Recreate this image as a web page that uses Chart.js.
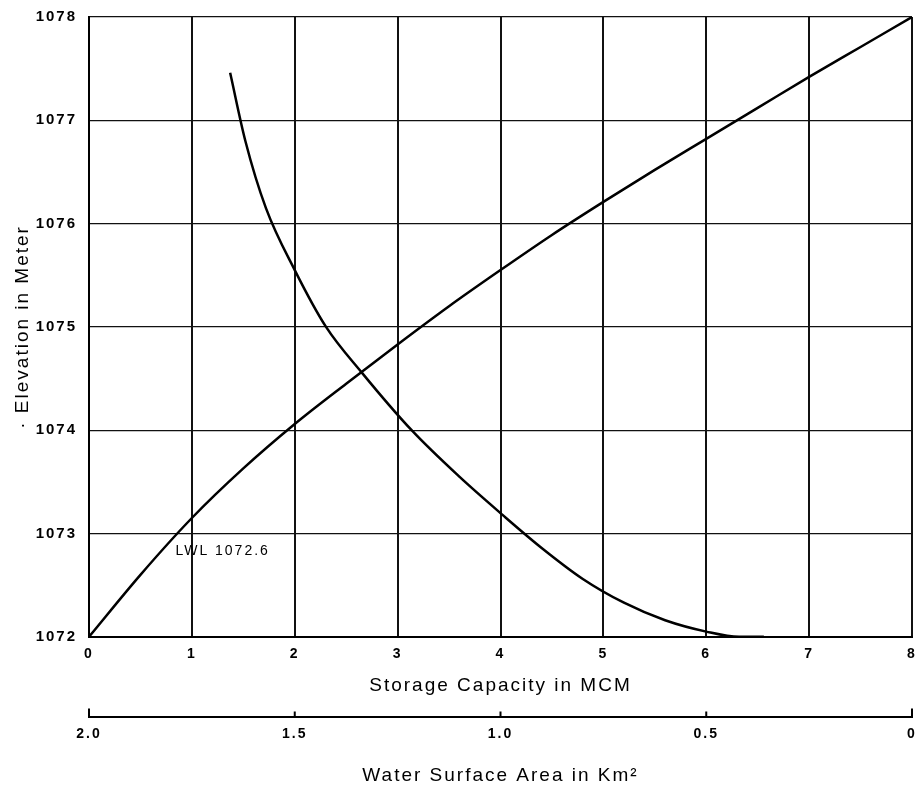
<!DOCTYPE html>
<html>
<head>
<meta charset="utf-8">
<script src="https://cdn.jsdelivr.net/npm/chart.js@4/dist/chart.umd.min.js"></script>
<style>
  html, body { margin: 0; padding: 0; background: #fff; }
  canvas { display: block; }
</style>
</head>
<body>
<canvas id="curve" width="919" height="795"></canvas>
<script>
// storage capacity (MCM) vs elevation
var capacity = [0, 0.5, 1, 1.5, 2, 2.5, 3, 3.5, 4, 4.5, 5, 5.5, 6, 6.5, 7, 7.5, 8];
var capElev  = [1072, 1072.6, 1073.15, 1073.63, 1074.06, 1074.45, 1074.83, 1075.2, 1075.55, 1075.89, 1076.21, 1076.52, 1076.82, 1077.12, 1077.42, 1077.71, 1078];

// water surface area (km2) vs elevation
var area     = [1.657, 1.62, 1.57, 1.5, 1.424, 1.3375, 1.216, 1.1, 0.995, 0.9, 0.8, 0.7, 0.6, 0.5, 0.42, 0.36];
var areaElev = [1077.46, 1076.8, 1076.15, 1075.55, 1075, 1074.56, 1074, 1073.55, 1073.18, 1072.86, 1072.56, 1072.33, 1072.16, 1072.05, 1072.0, 1072.0];

var capTicks = [0, 1, 2, 3, 4, 5, 6, 7, 8];
var areaTicks = [2.0, 1.5, 1.0, 0.5, 0];
var lwl = { text: 'LWL 1072.6', x: 0.84, y: 1072.83 };

var capPts = capacity.map(function (c, i) { return { x: c, y: capElev[i] }; });
var areaPts = area.map(function (a, i) { return { x: a, y: areaElev[i] }; });

var fontName = '"Liberation Sans", Arial, sans-serif';

// wide lettering like the original drawing
var spacing = {
    id: 'spacing',
    beforeUpdate: function (chart) { chart.ctx.letterSpacing = '2px'; },
    beforeDraw: function (chart) { chart.ctx.letterSpacing = '2px'; }
};

var extras = {
    id: 'extras',
    afterDraw: function (chart) {
        var ctx = chart.ctx;
        var s = chart.scales.x2;
        ctx.save();
        ctx.strokeStyle = '#000';
        ctx.lineWidth = 2;
        ctx.beginPath();
        s.ticks.forEach(function (t) {
            var px = s.getPixelForValue(t.value);
            var len = (t.value === 0 || t.value === 2) ? 9 : 6;
            ctx.moveTo(px, s.top);
            ctx.lineTo(px, s.top - len);
        });
        ctx.stroke();
        // low water level note
        ctx.fillStyle = '#000';
        ctx.font = '14px ' + fontName;
        ctx.textAlign = 'left';
        ctx.textBaseline = 'middle';
        ctx.fillText(lwl.text, chart.scales.x.getPixelForValue(lwl.x), chart.scales.y.getPixelForValue(lwl.y));
        ctx.restore();
    }
};

function noSidePad(s) { s.paddingLeft = 0; s.paddingRight = 0; }

new Chart('curve', {
    type: 'scatter',
    data: {
        datasets: [{
            label: 'Storage Capacity',
            data: capPts,
            xAxisID: 'x',
            yAxisID: 'y',
            showLine: true,
            borderColor: '#000',
            borderWidth: 2.5,
            pointRadius: 0,
            cubicInterpolationMode: 'monotone'
        }, {
            label: 'Water Surface Area',
            data: areaPts,
            xAxisID: 'x2',
            yAxisID: 'y',
            showLine: true,
            borderColor: '#000',
            borderWidth: 2.5,
            pointRadius: 0,
            cubicInterpolationMode: 'monotone'
        }]
    },
    options: {
        responsive: false,
        animation: false,
        layout: { padding: { top: 17, right: 7, bottom: 8, left: 12 } },
        plugins: {
            legend: { display: false },
            tooltip: { enabled: false }
        },
        scales: {
            x: {
                type: 'linear',
                position: 'bottom',
                weight: 0,
                min: 0,
                max: 8,
                afterBuildTicks: function (s) { s.ticks = capTicks.map(function (v) { return { value: v }; }); },
                afterFit: noSidePad,
                grid: { color: '#111', lineWidth: 2, drawTicks: false },
                border: { color: '#000', width: 2 },
                ticks: { color: '#000', padding: 9, font: { family: fontName, size: 14, weight: 'bold' } },
                title: {
                    display: true,
                    text: 'Storage Capacity in MCM',
                    color: '#000',
                    font: { family: fontName, size: 19 },
                    padding: { top: 3, bottom: 20 }
                }
            },
            x2: {
                type: 'linear',
                position: 'bottom',
                weight: 1,
                min: 0,
                max: 2,
                reverse: true,
                afterBuildTicks: function (s) { s.ticks = areaTicks.map(function (v) { return { value: v }; }); },
                afterFit: noSidePad,
                grid: { display: true, drawOnChartArea: false, drawTicks: false },
                border: { color: '#000', width: 2 },
                ticks: {
                    color: '#000',
                    padding: 8,
                    font: { family: fontName, size: 14, weight: 'bold' },
                    callback: function (v) { return v === 0 ? '0' : v.toFixed(1); }
                },
                title: {
                    display: true,
                    text: 'Water Surface Area in Km²',
                    color: '#000',
                    font: { family: fontName, size: 19 },
                    padding: { top: 14, bottom: 0 }
                }
            },
            y: {
                type: 'linear',
                min: 1072,
                max: 1078,
                afterFit: function (s) { s.width = 77; s.paddingTop = 0; s.paddingBottom = 0; },
                ticks: {
                    stepSize: 1,
                    color: '#000',
                    padding: 12,
                    font: { family: fontName, size: 15, weight: 'bold' },
                    callback: function (v) { return String(v); }
                },
                grid: { color: '#111', lineWidth: 1.3, drawTicks: false },
                border: { color: '#000', width: 2 },
                title: {
                    display: true,
                    text: '· Elevation in Meter',
                    color: '#000',
                    font: { family: fontName, size: 19, lineHeight: 1.1 },
                    padding: { top: 0, bottom: 0 }
                }
            }
        }
    },
    plugins: [spacing, extras]
});
</script>
</body>
</html>
